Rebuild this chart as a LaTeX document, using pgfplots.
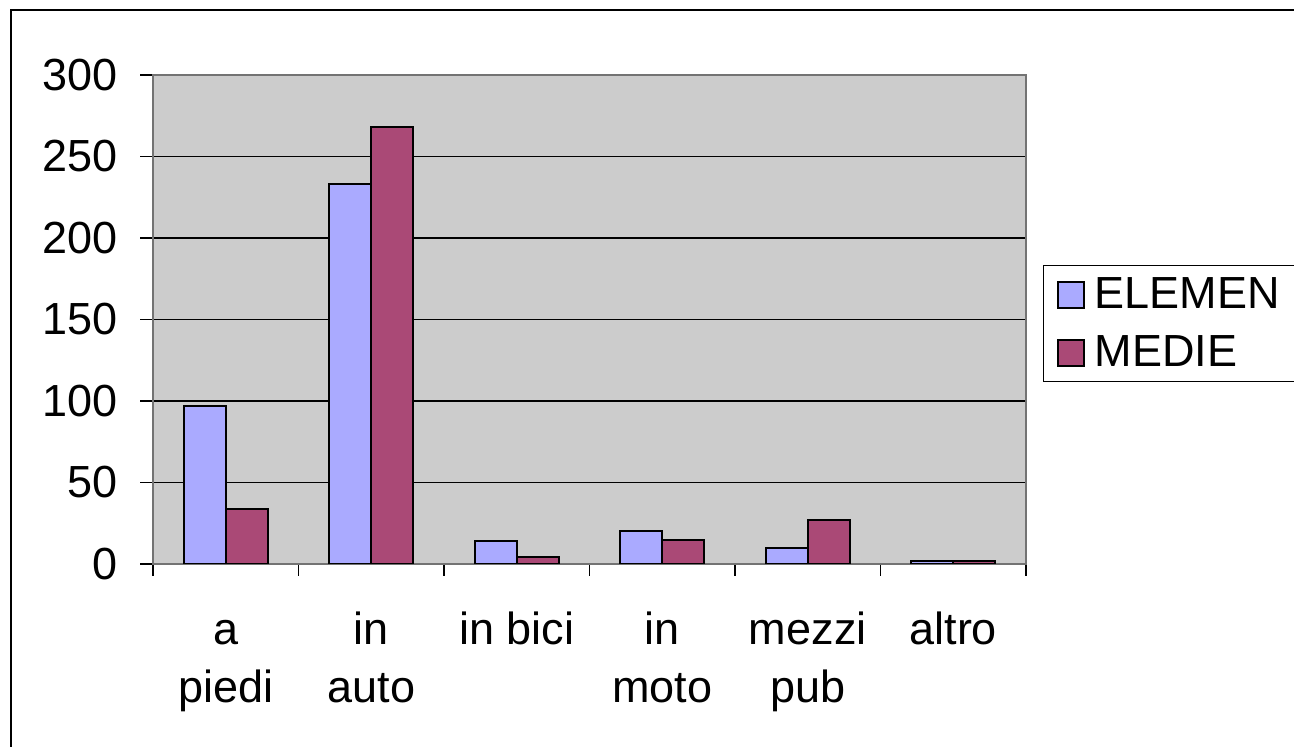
\documentclass[border=0pt]{standalone}
\usepackage{fontspec}
\setmainfont{Liberation Sans}
\usepackage{pgfplots}
\pgfplotsset{compat=1.18}
\definecolor{elem}{RGB}{170,170,255}
\definecolor{medie}{RGB}{170,73,118}
\definecolor{bggray}{RGB}{204,204,204}
\begin{document}
\begin{tikzpicture}[x=1pt,y=1pt]
\useasboundingbox (0,0) rectangle (647,373.5);
\fill[white] (0,0) rectangle (647,373.5);
\draw[line width=0.6pt] (5.5,-2) -- (5.5,368.5) -- (650,368.5);
\begin{axis}[
  at={(76.5pt,91.5pt)}, anchor=south west,
  scale only axis, width=436.5pt, height=244.5pt,
  ymin=0, ymax=300, ytick={0,50,...,300},
  xmin=-0.5, xmax=5.5,
  xtick={0,1,2,3,4,5},
  xticklabels={{\strut a\\piedi},{\strut in\\auto},{\strut in bici},{\strut in\\moto},{\strut mezzi\\pub},{\strut altro}},
  minor xtick={-0.5,0.5,...,5.5},
  major x tick style={draw=none},
  minor tick length=6pt,
  major tick length=6.5pt,
  tick align=outside,
  tick pos=left,
  tick style={black, line width=0.6pt},
  ymajorgrids, major grid style={black, line width=0.6pt},
  axis background/.style={fill=bggray},
  axis line style={draw=gray!90!black, line width=0.6pt},
  ticklabel style={font=\fontsize{22.5}{29}\selectfont},
  /pgf/number format/assume math mode=true,
  xticklabel style={align=center, yshift=-10pt},
  yticklabel style={xshift=-7.5pt},
  ybar, bar width=21pt,
  legend style={at={(axis description cs:1.0195,0.611)}, anchor=north west,
    draw=black, line width=0.6pt, font=\fontsize{22.5}{29}\selectfont,
    inner xsep=2.5pt, inner ysep=4pt, row sep=8pt, legend cell align=left,
    nodes={inner xsep=5pt, inner ysep=2pt}},
  legend image code/.code={\path (0pt,0pt); \draw[#1,draw=black,line width=0.8pt] (4.2pt,-6.5pt) rectangle (17.2pt,6.5pt);},
]
\addplot[fill=elem, draw=black, line width=1pt, bar shift=-10.5pt] coordinates {(0,97) (1,233) (2,14) (3,20) (4,10) (5,2)};
\addplot[fill=medie, draw=black, line width=1pt, bar shift=10.5pt] coordinates {(0,34) (1,268) (2,4) (3,15) (4,27) (5,2)};
\legend{ELEMEN, MEDIE}
\end{axis}
\end{tikzpicture}
\end{document}
